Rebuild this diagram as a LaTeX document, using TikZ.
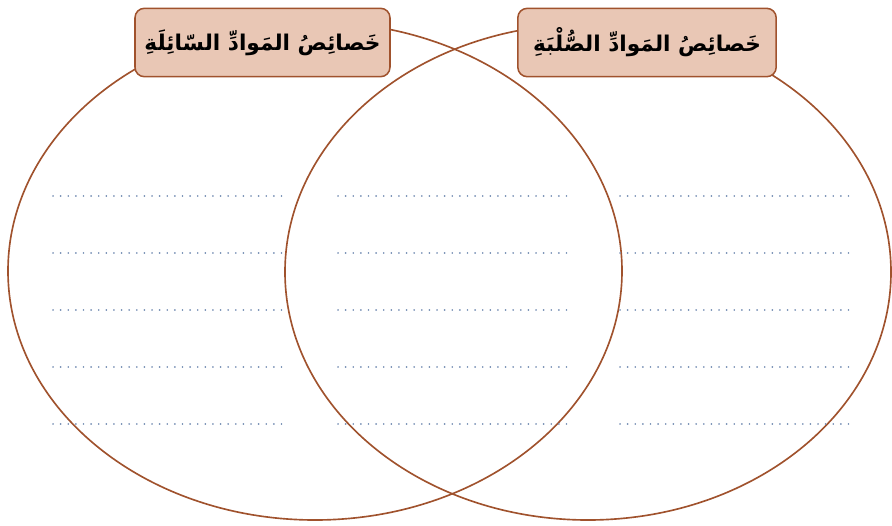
\documentclass[tikz,border=0pt]{standalone}
\usepackage{fontspec}
\newfontfamily\arabicfont[Script=Arabic]{DejaVu Sans}
\TeXXeTstate=1
\usetikzlibrary{positioning}
\definecolor{rimbrown}{RGB}{160,82,45}
\definecolor{titlefill}{RGB}{233,199,181}
\definecolor{dotblue}{RGB}{115,140,178}
\tikzset{
  title/.style={draw=rimbrown, fill=titlefill, line width=1.3pt, rounded corners=8pt,
    minimum height=2.05cm, inner sep=0pt, font=\arabicfont\bfseries\fontsize{18.5}{22}\selectfont},
  writeline/.style={dotblue, line width=1.5pt, line cap=round, dash pattern=on 0.05pt off 6.45pt}
}

\begin{document}
\begin{tikzpicture}[x=0.03cm,y=-0.03cm]
  \useasboundingbox (0,0) rectangle (892,525);
  \draw[rimbrown, line width=1.4pt] (315,271) ellipse [x radius=307, y radius=249];  % liquids
  \draw[rimbrown, line width=1.4pt] (588,272) ellipse [x radius=303, y radius=248];  % solids
  % dotted writing lines
  \foreach \y in {196,253,310,367,424} {
    \draw[writeline] (53,\y) -- (286,\y);
    \draw[writeline] (338,\y) -- (571,\y);
    \draw[writeline] (620,\y) -- (853,\y);
  }
  % titles
  \node[title, minimum width=7.65cm] (liquid) at (262.5,42.5) {\beginR خَصائِصُ المَوادِّ السّائِلَةِ\endR};
  \node[title, minimum width=7.75cm] (solid) at (647,42.5) {\beginR خَصائِصُ المَوادِّ الصُّلْبَةِ\endR};
\end{tikzpicture}
\end{document}
